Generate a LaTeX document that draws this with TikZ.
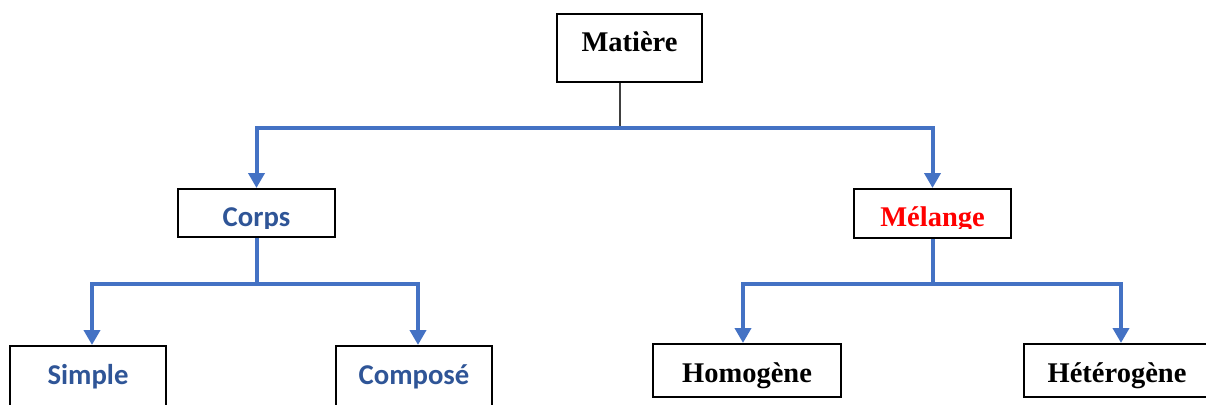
\documentclass[tikz,border=0pt]{standalone}
\usepackage{fontspec}
\setmainfont{Liberation Serif}
\newfontfamily\calibri{Carlito}
\usetikzlibrary{arrows.meta}
\definecolor{connblue}{HTML}{4472C4}
\definecolor{textblue}{HTML}{2F5597}
\tikzset{
  box/.style={draw=black, line width=2pt, fill=white, inner sep=2pt, text depth=0pt},
  serifbold/.style={font=\fontsize{28.5}{32}\selectfont\bfseries},
  calbold/.style={font=\calibri\fontsize{28.7}{32}\selectfont\bfseries, text=textblue},
  conn/.style={draw=connblue, line width=4pt},
  tip/.tip={Triangle[width=16pt,length=15pt]},
  thinline/.style={draw=black!75, line width=1.3pt}
}
\begin{document}
\begin{tikzpicture}[x=1pt,y=-1pt]
\useasboundingbox (0,0) rectangle (1206,404);
\clip (0,0) rectangle (1206,404);
% boxes
\node[box, serifbold, minimum width=145pt, minimum height=68pt, text height=8pt] (matiere) at (629.5,48) {Matière};
\node[box, calbold, minimum width=157pt, minimum height=48pt, text height=26pt] (corps) at (256.5,213) {Corps};
\node[box, serifbold, text=red, minimum width=157pt, minimum height=49pt, text height=25pt] (melange) at (932.5,213.5) {Mélange};
\node[box, calbold, minimum width=156pt, minimum height=63pt, text height=13pt] (simple) at (88,377.5) {Simple};
\node[box, calbold, minimum width=156pt, minimum height=63pt, text height=13pt] (compose) at (414,377.5) {Composé};
\node[box, serifbold, minimum width=188pt, minimum height=53pt, text height=23pt] (homogene) at (747,370.5) {Homogène};
\node[box, serifbold, minimum width=186pt, minimum height=53pt, text height=23pt] (heterogene) at (1117,370.5) {Hétérogène};
% text cut at the bottom of the two middle boxes
\coordinate (cut) at (0,229);
\fill[white] ([xshift=2.3pt]corps.west |- cut) rectangle ([shift={(-2.3pt,2.3pt)}]corps.south east);
\fill[white] ([xshift=2.3pt]melange.west |- cut) rectangle ([shift={(-2.3pt,2.3pt)}]melange.south east);
% connectors
\coordinate (hubA) at (620,128);
\coordinate (hubB) at (256.5,284);
\coordinate (hubC) at (932.5,284);
\draw[thinline] (matiere.south -| hubA) -- (hubA);
\draw[conn, tip-tip] (corps.north) |- (hubA) -| (melange.north);
\draw[conn] (corps.south) -- (hubB);
\draw[conn, tip-tip] ([xshift=4pt]simple.north) |- (hubB) -| ([xshift=4pt]compose.north);
\draw[conn] (melange.south) -- (hubC);
\draw[conn, tip-tip] ([xshift=-4pt]homogene.north) |- (hubC) -| ([xshift=4pt]heterogene.north);
\end{tikzpicture}
\end{document}
